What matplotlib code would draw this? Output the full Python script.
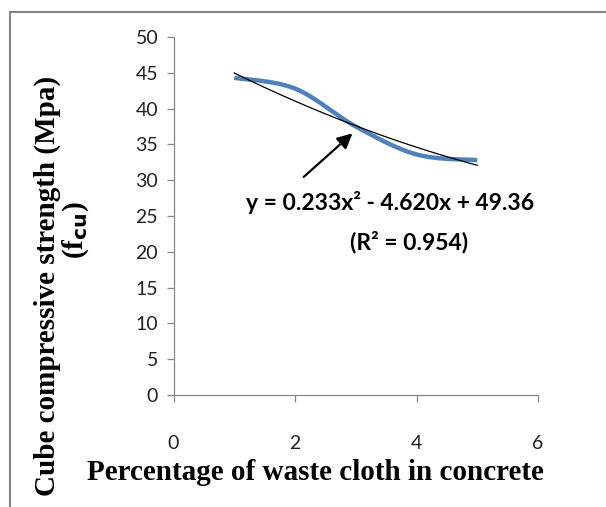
import numpy as np
import matplotlib
matplotlib.use("Agg")
import matplotlib.pyplot as plt
from matplotlib.lines import Line2D

# data
x_vals = [1, 2, 3, 4, 5]
y_vals = [44.3, 42.8, 37.5, 33.6, 32.8]
coef = [0.233, -4.620, 49.36]   # a, b, c of trendline
x_ticks = [0, 2, 4, 6]
y_ticks = [0, 5, 10, 15, 20, 25, 30, 35, 40, 45, 50]

def catmull_rom(xs, ys, n=40):
    xs = np.asarray(xs, float); ys = np.asarray(ys, float)
    P = np.column_stack([xs, ys])
    P = np.vstack([P[0], P, P[-1]])
    out = []
    for i in range(1, len(P) - 2):
        p0, p1, p2, p3 = P[i-1], P[i], P[i+1], P[i+2]
        t = np.linspace(0, 1, n)[:, None]
        pts = 0.5 * ((2*p1) + (-p0 + p2)*t + (2*p0 - 5*p1 + 4*p2 - p3)*t**2 + (-p0 + 3*p1 - 3*p2 + p3)*t**3)
        out.append(pts if i == 1 else pts[1:])
    out = np.vstack(out)
    return out[:, 0], out[:, 1]

fig = plt.figure(figsize=(6.06, 5.07), dpi=100)
ax = fig.add_axes([173.5/606, 1 - 395/507, (538 - 173.5)/606, (395 - 37)/507])

sx, sy = catmull_rom(x_vals, y_vals)
ax.plot(sx, sy, color="#4F81BD", lw=3.2, solid_capstyle="butt", zorder=2)

xt = np.linspace(min(x_vals), max(x_vals), 100)
yt = coef[0]*xt**2 + coef[1]*xt + coef[2]
ax.plot(xt, yt, color="black", lw=0.9, zorder=3)

ax.set_xlim(0, 6)
ax.set_ylim(0, 50)
ax.set_xticks(x_ticks)
ax.set_yticks(y_ticks)
for s in ["top", "right"]:
    ax.spines[s].set_visible(False)
for s in ["left", "bottom"]:
    ax.spines[s].set_color("#868686")
    ax.spines[s].set_linewidth(0.9)
ax.tick_params(axis="both", direction="out", length=5, width=0.9, color="#868686",
               labelsize=14, labelcolor="#222222")
ax.tick_params(axis="x", pad=24)
ax.tick_params(axis="y", pad=6)
for lab in ax.get_xticklabels() + ax.get_yticklabels():
    lab.set_family("Lato")

ax.annotate("", xy=(2.98, 36.8), xytext=(2.11, 30.2),
            arrowprops=dict(arrowstyle="-|>,head_length=0.9,head_width=0.45", color="black", lw=1.6))

fig.text(390/606, 1 - 203/507, "y = 0.233x² - 4.620x + 49.36", ha="center", va="center",
         fontsize=16.5, fontweight="bold", family="Lato", color="black")
fig.text(409/606, 1 - 242/507, "(R² = 0.954)", ha="center", va="center",
         fontsize=16.5, fontweight="bold", family="Lato", color="black")

fig.text(47/606, 1 - 286/507, "Cube compressive strength (Mpa)", rotation=90, ha="center", va="center",
         fontsize=21, fontweight="bold", family="Liberation Serif")
fig.text(76/606, 1 - 230/507, r"(f$_{\mathbf{cu}}$)", rotation=90, ha="center", va="center",
         fontsize=21, fontweight="bold", family="Liberation Serif")
fig.text(315/606, 1 - 473/507, "Percentage of waste cloth in concrete", ha="center", va="center",
         fontsize=21, fontweight="bold", family="Liberation Serif")

# chart border (top and left visible)
fig.add_artist(Line2D([10/606, 10/606], [0, 1 - 12/507], transform=fig.transFigure, color="#868686", lw=1.5))
fig.add_artist(Line2D([10/606, 1], [1 - 12/507, 1 - 12/507], transform=fig.transFigure, color="#868686", lw=1.5))

fig.savefig("out.png", dpi=100)
